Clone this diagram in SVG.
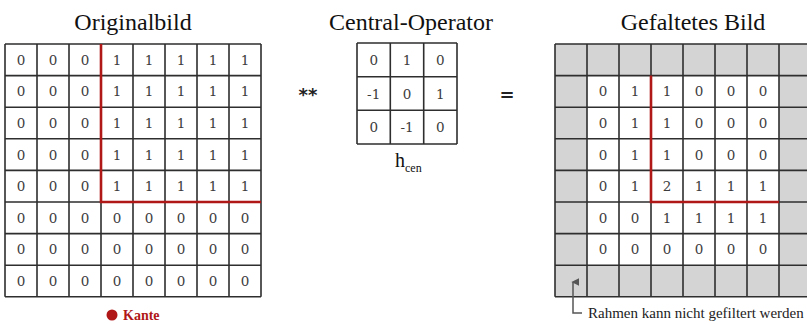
<svg xmlns="http://www.w3.org/2000/svg" width="807" height="324" viewBox="0 0 807 324">
<defs>
<style>
.title{font-family:"Liberation Serif","Times New Roman",serif;font-size:24px;fill:#111;text-anchor:middle}
.n{font-family:"DejaVu Serif","Liberation Serif",serif;font-size:13.5px;fill:#3a3a3a;text-anchor:middle}
.g{stroke:#2e2e2e;stroke-width:1.6;fill:none}
.edge{stroke:#b01818;stroke-width:2.6;fill:none}
.op{font-family:"DejaVu Sans",sans-serif;font-size:18px;font-weight:bold;fill:#222;text-anchor:middle}
</style>
<marker id="ah" viewBox="0 0 10 10" refX="5" refY="2" markerWidth="8" markerHeight="8" orient="auto-start-reverse" markerUnits="userSpaceOnUse">
<path d="M0,10 L5,0 L10,10 Z" fill="#555"/>
</marker>
</defs>
<rect width="807" height="324" fill="#fff"/>

<g id="originalbild">
<text class="title" x="133" y="30">Originalbild</text>
<rect x="5" y="44" width="256" height="252.8" fill="#fff"/>
<path class="g" d="M5,44V296.8M37,44V296.8M69,44V296.8M101,44V296.8M133,44V296.8M165,44V296.8M197,44V296.8M229,44V296.8M261,44V296.8M5,44H261M5,75.6H261M5,107.2H261M5,138.8H261M5,170.4H261M5,202H261M5,233.6H261M5,265.2H261M5,296.8H261"/>
<g class="n" opacity="0.99">
<text x="21" y="64.8">0</text><text x="53" y="64.8">0</text><text x="85" y="64.8">0</text><text x="117" y="64.8">1</text><text x="149" y="64.8">1</text><text x="181" y="64.8">1</text><text x="213" y="64.8">1</text><text x="245" y="64.8">1</text>
<text x="21" y="96.4">0</text><text x="53" y="96.4">0</text><text x="85" y="96.4">0</text><text x="117" y="96.4">1</text><text x="149" y="96.4">1</text><text x="181" y="96.4">1</text><text x="213" y="96.4">1</text><text x="245" y="96.4">1</text>
<text x="21" y="128">0</text><text x="53" y="128">0</text><text x="85" y="128">0</text><text x="117" y="128">1</text><text x="149" y="128">1</text><text x="181" y="128">1</text><text x="213" y="128">1</text><text x="245" y="128">1</text>
<text x="21" y="159.6">0</text><text x="53" y="159.6">0</text><text x="85" y="159.6">0</text><text x="117" y="159.6">1</text><text x="149" y="159.6">1</text><text x="181" y="159.6">1</text><text x="213" y="159.6">1</text><text x="245" y="159.6">1</text>
<text x="21" y="191.2">0</text><text x="53" y="191.2">0</text><text x="85" y="191.2">0</text><text x="117" y="191.2">1</text><text x="149" y="191.2">1</text><text x="181" y="191.2">1</text><text x="213" y="191.2">1</text><text x="245" y="191.2">1</text>
<text x="21" y="222.8">0</text><text x="53" y="222.8">0</text><text x="85" y="222.8">0</text><text x="117" y="222.8">0</text><text x="149" y="222.8">0</text><text x="181" y="222.8">0</text><text x="213" y="222.8">0</text><text x="245" y="222.8">0</text>
<text x="21" y="254.4">0</text><text x="53" y="254.4">0</text><text x="85" y="254.4">0</text><text x="117" y="254.4">0</text><text x="149" y="254.4">0</text><text x="181" y="254.4">0</text><text x="213" y="254.4">0</text><text x="245" y="254.4">0</text>
<text x="21" y="286">0</text><text x="53" y="286">0</text><text x="85" y="286">0</text><text x="117" y="286">0</text><text x="149" y="286">0</text><text x="181" y="286">0</text><text x="213" y="286">0</text><text x="245" y="286">0</text>
</g>
<path class="edge" d="M101,44V202H261"/>
</g>

<g id="operator-conv">
<text class="op" x="308" y="101">**</text>
</g>

<g id="central-operator">
<text class="title" x="411" y="30">Central-Operator</text>
<rect x="357" y="43" width="100" height="101" fill="#fff"/>
<path class="g" d="M357,43V144M390.3,43V144M423.7,43V144M457,43V144M357,43H457M357,76.7H457M357,110.3H457M357,144H457"/>
<g class="n" opacity="0.99">
<text x="373.7" y="64.8">0</text><text x="407" y="64.8">1</text><text x="440.3" y="64.8">0</text>
<text x="373.7" y="98.5">-1</text><text x="407" y="98.5">0</text><text x="440.3" y="98.5">1</text>
<text x="373.7" y="132.2">0</text><text x="407" y="132.2">-1</text><text x="440.3" y="132.2">0</text>
</g>
<text x="395" y="167" style="font-family:'Liberation Serif',serif;font-size:20px;fill:#111">h<tspan font-size="12" dy="5">cen</tspan></text>
</g>

<g id="operator-eq">
<text class="op" x="507" y="101">=</text>
</g>

<g id="gefaltetes-bild">
<text class="title" x="693" y="30">Gefaltetes Bild</text>
<rect x="555" y="44" width="256" height="252.8" fill="#d4d4d4"/>
<rect x="587" y="75.6" width="192" height="189.6" fill="#fff"/>
<path class="g" d="M555,44V296.8M587,44V296.8M619,44V296.8M651,44V296.8M683,44V296.8M715,44V296.8M747,44V296.8M779,44V296.8M555,44H811M555,75.6H811M555,107.2H811M555,138.8H811M555,170.4H811M555,202H811M555,233.6H811M555,265.2H811M555,296.8H811"/>
<g class="n" opacity="0.99">
<text x="603" y="96.4">0</text><text x="635" y="96.4">1</text><text x="667" y="96.4">1</text><text x="699" y="96.4">0</text><text x="731" y="96.4">0</text><text x="763" y="96.4">0</text>
<text x="603" y="128">0</text><text x="635" y="128">1</text><text x="667" y="128">1</text><text x="699" y="128">0</text><text x="731" y="128">0</text><text x="763" y="128">0</text>
<text x="603" y="159.6">0</text><text x="635" y="159.6">1</text><text x="667" y="159.6">1</text><text x="699" y="159.6">0</text><text x="731" y="159.6">0</text><text x="763" y="159.6">0</text>
<text x="603" y="191.2">0</text><text x="635" y="191.2">1</text><text x="667" y="191.2">2</text><text x="699" y="191.2">1</text><text x="731" y="191.2">1</text><text x="763" y="191.2">1</text>
<text x="603" y="222.8">0</text><text x="635" y="222.8">0</text><text x="667" y="222.8">1</text><text x="699" y="222.8">1</text><text x="731" y="222.8">1</text><text x="763" y="222.8">1</text>
<text x="603" y="254.4">0</text><text x="635" y="254.4">0</text><text x="667" y="254.4">0</text><text x="699" y="254.4">0</text><text x="731" y="254.4">0</text><text x="763" y="254.4">0</text>
</g>
<path class="edge" d="M651,75.6V202H779"/>
</g>

<g id="legend-kante">
<circle cx="112" cy="315" r="5.5" fill="#b01818"/>
<text x="123" y="319.5" style="font-family:'Liberation Serif',serif;font-size:14px;font-weight:bold;fill:#b01818">Kante</text>
</g>

<g id="connectors">
<path d="M582,313H573V282" fill="none" stroke="#555" stroke-width="1.5" marker-end="url(#ah)"/>
</g>

<g id="note-rahmen">
<text x="588" y="318" style="font-family:'Liberation Serif',serif;font-size:15px;fill:#222">Rahmen kann nicht gefiltert werden</text>
</g>
</svg>
